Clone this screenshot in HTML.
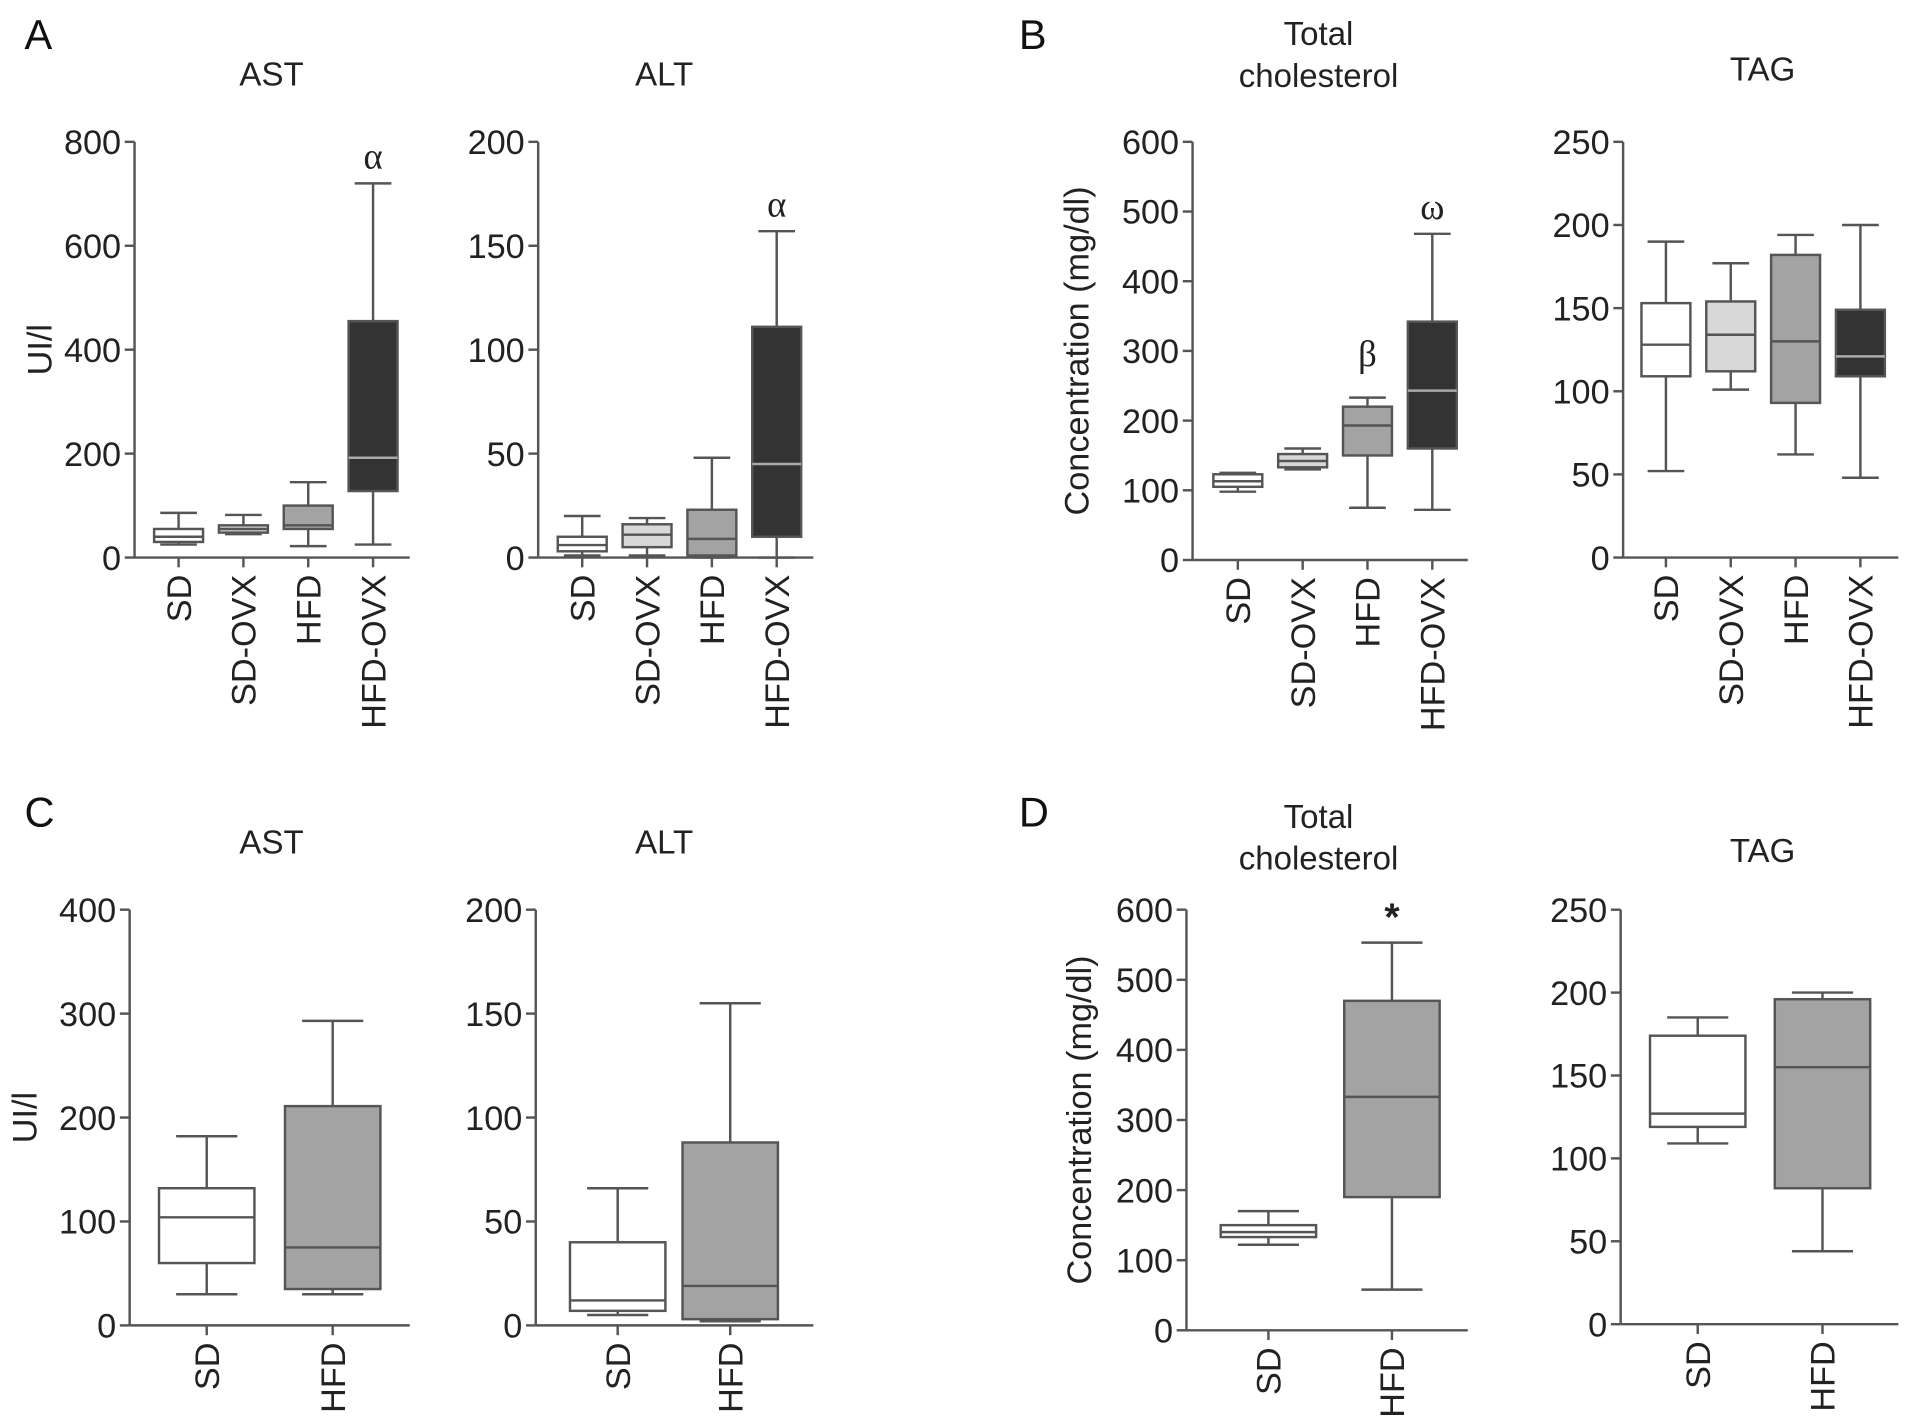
<!DOCTYPE html>
<html><head><meta charset="utf-8"><style>
html,body{margin:0;padding:0;background:#fff;}
svg{display:block;font-family:"Liberation Sans",Arial,sans-serif;}
</style></head><body>
<svg id="fig" width="1913" height="1422" viewBox="0 0 1564 1163" preserveAspectRatio="none" xmlns="http://www.w3.org/2000/svg"></svg>
<script>
// ---- data ----
const catsA = ["SD","SD-OVX","HFD","HFD-OVX"];
const catsC = ["SD","HFD"];
const fills4 = ["#ffffff","#d8d8d8","#a3a3a3","#333333"];
const fills2 = ["#ffffff","#a3a3a3"];
// [min, q1, median, q3, max]
const aAST = [[25,30,40,55,86],[45,48,55,62,82],[22,55,62,100,145],[25,128,192,455,720]];
const aALT = [[1,3,6,10,20],[1,5,11,16,19],[0,1,9,23,48],[0,10,45,111,157]];
const bTC  = [[98,105,113,123,125],[130,133,142,152,160],[75,150,193,220,233],[72,160,243,342,468]];
const bTAG = [[52,109,128,153,190],[101,112,134,154,177],[62,93,130,182,194],[48,109,121,149,200]];
const cAST = [[30,60,104,132,182],[30,35,75,211,293]];
const cALT = [[5,7,12,40,66],[2,3,19,88,155]];
const dTC  = [[122,133,140,150,170],[58,190,333,470,553]];
const dTAG = [[109,119,127,174,185],[44,82,155,196,200]];
const ticksAST4=[0,200,400,600,800], ticks200=[0,50,100,150,200], ticks600=[0,100,200,300,400,500,600], ticks250=[0,50,100,150,200,250], ticks400=[0,100,200,300,400];

const NS="http://www.w3.org/2000/svg";
const svg=document.getElementById('fig');
function el(tag,attrs,parent,name){const e=document.createElementNS(NS,tag);for(const k in attrs)e.setAttribute(k,attrs[k]);


(parent||svg).appendChild(e);return e;}
function txt(s,attrs,name,parent){const t=el('text',attrs,parent,name);t.textContent=s;return t;}

function panel(o){
  const g=el('g',{},svg,o.name);
  const ys=v=>o.y0-(v/o.max)*(o.y0-o.ytop);
  const xs=i=>o.x0+o.first+i*o.step;
  const S="#555";
  el('line',{x1:o.x0,y1:o.y0,x2:o.x0,y2:o.ytop,stroke:S,'stroke-width':2},g,'y-axis');
  el('line',{x1:o.x0,y1:o.y0,x2:o.xend,y2:o.y0,stroke:S,'stroke-width':2},g,'x-axis');
  o.ticks.forEach(t=>{
    el('line',{x1:o.x0-8,y1:ys(t),x2:o.x0,y2:ys(t),stroke:S,'stroke-width':2},g,'y-tick');
    txt(String(t),{x:o.x0-11,y:ys(t)+10,'text-anchor':'end','font-size':28,fill:'#222'},'y-tick-label',g);
  });
  o.cats.forEach((c,i)=>{
    el('line',{x1:xs(i),y1:o.y0,x2:xs(i),y2:o.y0+8,stroke:S,'stroke-width':2},g,'x-tick');
    txt(c,{x:0,y:0,transform:`translate(${xs(i)+10},${o.y0+14}) rotate(-90)`,'text-anchor':'end','font-size':28,fill:'#222'},'x-tick-label',g);
    const d=o.data[i], x=xs(i), w=o.bw, cap=o.cap;
    el('line',{x1:x,y1:ys(d[0]),x2:x,y2:ys(d[4]),stroke:S,'stroke-width':2},g,'whisker');
    el('line',{x1:x-cap,y1:ys(d[0]),x2:x+cap,y2:ys(d[0]),stroke:S,'stroke-width':2},g,'whisker-cap-min');
    el('line',{x1:x-cap,y1:ys(d[4]),x2:x+cap,y2:ys(d[4]),stroke:S,'stroke-width':2},g,'whisker-cap-max');
    el('rect',{x:x-w/2,y:ys(d[3]),width:w,height:Math.max(1,ys(d[1])-ys(d[3])),fill:o.fills[i],stroke:S,'stroke-width':2},g,'box-'+c.toLowerCase());
    el('line',{x1:x-w/2,y1:ys(d[2]),x2:x+w/2,y2:ys(d[2]),stroke:o.fills[i]=="#333333"?"#aaa":S,'stroke-width':2},g,'median-line');
  });
  if(o.ylabel) txt(o.ylabel,{x:0,y:0,transform:`translate(${o.ylx},${(o.y0+o.ytop)/2}) rotate(-90)`,'text-anchor':'middle','font-size':28,fill:'#222'},'y-axis-title',g);
  o.title.forEach((t,k)=>txt(t,{x:o.tx,y:o.ty+k*34,'text-anchor':'middle','font-size':27,fill:'#222'},'chart-title',g));
  (o.marks||[]).forEach(m=>txt(m[1],{x:xs(m[0]),y:ys(o.data[m[0]][4])-m[2],'text-anchor':'middle','font-size':m[3]||30,'font-family':m[3]?'"Liberation Sans",sans-serif':'"Liberation Serif",serif',fill:'#222','font-weight':m[3]?'bold':'normal'},'significance-mark',g));
}
txt("A",{x:20,y:40,'font-size':34,fill:'#111'},'panel-label-a');
txt("B",{x:833,y:40,'font-size':34,fill:'#111'},'panel-label-b');
txt("C",{x:20,y:676,'font-size':34,fill:'#111'},'panel-label-c');
txt("D",{x:833,y:676,'font-size':34,fill:'#111'},'panel-label-d');

panel({name:'a-ast',x0:110,y0:456,ytop:116,max:800,xend:335,first:36,step:53,bw:40,cap:15,cats:catsA,fills:fills4,data:aAST,ticks:ticksAST4,ylabel:'UI/l',ylx:42,title:['AST'],tx:222,ty:70,marks:[[3,'α',12]]});
panel({name:'a-alt',x0:440,y0:456,ytop:116,max:200,xend:665,first:36,step:53,bw:40,cap:15,cats:catsA,fills:fills4,data:aALT,ticks:ticks200,title:['ALT'],tx:543,ty:70,marks:[[3,'α',12]]});
panel({name:'b-tc',x0:975,y0:458,ytop:116,max:600,xend:1200,first:37,step:53,bw:40,cap:15,cats:catsA,fills:fills4,data:bTC,ticks:ticks600,ylabel:'Concentration (mg/dl)',ylx:890,title:['Total','cholesterol'],tx:1078,ty:37,marks:[[2,'β',26],[3,'ω',12]]});
panel({name:'b-tag',x0:1327,y0:456,ytop:116,max:250,xend:1552,first:35,step:53,bw:40,cap:15,cats:catsA,fills:fills4,data:bTAG,ticks:ticks250,title:['TAG'],tx:1441,ty:66});
panel({name:'c-ast',x0:106,y0:1084,ytop:744,max:400,xend:335,first:63,step:103,bw:78,cap:25,cats:catsC,fills:fills2,data:cAST,ticks:ticks400,ylabel:'UI/l',ylx:30,title:['AST'],tx:222,ty:698});
panel({name:'c-alt',x0:438,y0:1084,ytop:744,max:200,xend:665,first:67,step:92,bw:78,cap:25,cats:catsC,fills:fills2,data:cALT,ticks:ticks200,title:['ALT'],tx:543,ty:698});
panel({name:'d-tc',x0:970,y0:1088,ytop:744,max:600,xend:1200,first:67,step:101,bw:78,cap:25,cats:catsC,fills:fills2,data:dTC,ticks:ticks600,ylabel:'Concentration (mg/dl)',ylx:892,title:['Total','cholesterol'],tx:1078,ty:677,marks:[[1,'*',10,32]]});
panel({name:'d-tag',x0:1325,y0:1083,ytop:744,max:250,xend:1552,first:63,step:102,bw:78,cap:25,cats:catsC,fills:fills2,data:dTAG,ticks:ticks250,title:['TAG'],tx:1441,ty:705});
</script>
</body></html>
